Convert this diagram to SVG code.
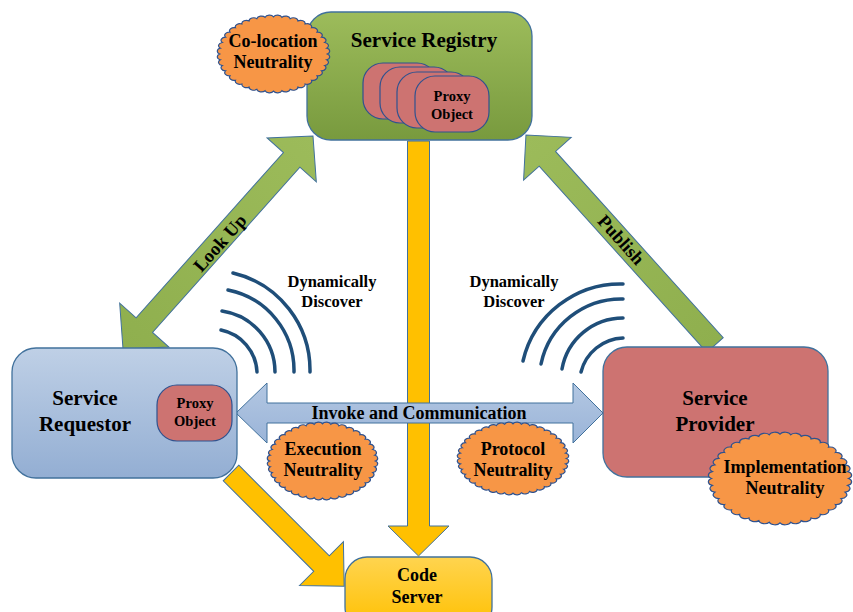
<svg xmlns="http://www.w3.org/2000/svg" xmlns:xlink="http://www.w3.org/1999/xlink" width="853" height="612" viewBox="0 0 853 612">
<style>
.t{font-family:"Liberation Serif","Times New Roman",serif;font-weight:bold;fill:#000;text-anchor:middle}
.node{stroke:#41719C;stroke-width:1.3}
.proxy{fill:#CD7371;stroke:#2F528F;stroke-width:1.2}
.cloudp{fill:#F79646;stroke:#2F528F;stroke-width:1.2;vector-effect:non-scaling-stroke}
.arr{stroke:#41719C;stroke-width:1}
.wave{fill:none;stroke:#1F4E79;stroke-width:3.5;stroke-linecap:round}
</style>
<defs>
<linearGradient id="gGreen" x1="0" y1="0" x2="0" y2="1"><stop offset="0" stop-color="#9DBC5B"/><stop offset="1" stop-color="#789A3E"/></linearGradient>
<linearGradient id="gBlue" x1="0" y1="0" x2="0" y2="1"><stop offset="0" stop-color="#BFD0E6"/><stop offset="1" stop-color="#93AED3"/></linearGradient>
<linearGradient id="gYellow" x1="0" y1="0" x2="0" y2="1"><stop offset="0" stop-color="#FFD44F"/><stop offset="1" stop-color="#FFC000"/></linearGradient>
<linearGradient id="gArrBlue" x1="0" y1="0" x2="0" y2="1"><stop offset="0" stop-color="#B3C7E2"/><stop offset="1" stop-color="#9AB4D8"/></linearGradient>
<linearGradient id="gArrGreen" x1="0" y1="0" x2="1" y2="0"><stop offset="0" stop-color="#8FAF4E"/><stop offset="1" stop-color="#9CBB5A"/></linearGradient>
<path id="cloud" class="cloudp" d="M50,0 A4.3 4.3 0 0 1 49.38,7.82 A4.3 4.3 0 0 1 47.55,15.45 A4.3 4.3 0 0 1 44.55,22.70 A4.3 4.3 0 0 1 40.45,29.39 A4.3 4.3 0 0 1 35.36,35.36 A4.3 4.3 0 0 1 29.39,40.45 A4.3 4.3 0 0 1 22.70,44.55 A4.3 4.3 0 0 1 15.45,47.55 A4.3 4.3 0 0 1 7.82,49.38 A4.3 4.3 0 0 1 0,50 A4.3 4.3 0 0 1 -7.82,49.38 A4.3 4.3 0 0 1 -15.45,47.55 A4.3 4.3 0 0 1 -22.70,44.55 A4.3 4.3 0 0 1 -29.39,40.45 A4.3 4.3 0 0 1 -35.36,35.36 A4.3 4.3 0 0 1 -40.45,29.39 A4.3 4.3 0 0 1 -44.55,22.70 A4.3 4.3 0 0 1 -47.55,15.45 A4.3 4.3 0 0 1 -49.38,7.82 A4.3 4.3 0 0 1 -50,0 A4.3 4.3 0 0 1 -49.38,-7.82 A4.3 4.3 0 0 1 -47.55,-15.45 A4.3 4.3 0 0 1 -44.55,-22.70 A4.3 4.3 0 0 1 -40.45,-29.39 A4.3 4.3 0 0 1 -35.36,-35.36 A4.3 4.3 0 0 1 -29.39,-40.45 A4.3 4.3 0 0 1 -22.70,-44.55 A4.3 4.3 0 0 1 -15.45,-47.55 A4.3 4.3 0 0 1 -7.82,-49.38 A4.3 4.3 0 0 1 0,-50 A4.3 4.3 0 0 1 7.82,-49.38 A4.3 4.3 0 0 1 15.45,-47.55 A4.3 4.3 0 0 1 22.70,-44.55 A4.3 4.3 0 0 1 29.39,-40.45 A4.3 4.3 0 0 1 35.36,-35.36 A4.3 4.3 0 0 1 40.45,-29.39 A4.3 4.3 0 0 1 44.55,-22.70 A4.3 4.3 0 0 1 47.55,-15.45 A4.3 4.3 0 0 1 49.38,-7.82 A4.3 4.3 0 0 1 50,0 Z"/>
</defs>
<rect width="853" height="612" fill="#fff"/>

<g id="connectors">
  <g id="edge-lookup">
    <polygon class="arr" fill="url(#gArrGreen)" transform="translate(218,242.5) rotate(-48.27)" points="-142.7,0 -110.7,-33 -110.7,-11 110.7,-11 110.7,-33 142.7,0 110.7,33 110.7,11 -110.7,11 -110.7,33"/>
    <text class="t" font-size="18.5" transform="translate(220,243) rotate(-48.27)" y="6">Look Up</text>
  </g>
  <g id="edge-publish">
    <polygon class="arr" fill="url(#gArrGreen)" transform="translate(620.5,240) rotate(-132)" points="-141.3,-11 109.3,-11 109.3,-32 141.3,0 109.3,32 109.3,11 -141.3,11"/>
    <text class="t" font-size="18.5" transform="translate(621,240) rotate(48)" y="6">Publish</text>
  </g>
  <g id="edge-registry-codeserver">
    <polygon class="arr" fill="#FFC000" points="407.5,141 429.5,141 429.5,526 449,526 418.5,556 388,526 407.5,526"/>
  </g>
  <g id="edge-requestor-codeserver">
    <polygon class="arr" fill="#FFC000" transform="translate(231,473) rotate(45)" points="0,-11 128,-11 128,-31 160,0 128,31 128,11 0,11"/>
  </g>
  <g id="edge-invoke">
    <polygon class="arr" fill="url(#gArrBlue)" points="236,413 267,383 267,403 573,403 573,383 603,413 573,443 573,423 267,423 267,443"/>
    <text class="t" font-size="18" x="419" y="419">Invoke and Communication</text>
  </g>
  <g id="waves-left">
    <path class="wave" d="M233,273 A100,100 0 0 1 310,372"/>
    <path class="wave" d="M228,290 A82,82 0 0 1 294,372"/>
    <path class="wave" d="M222,311 A62,62 0 0 1 275,372"/>
    <path class="wave" d="M221,330 A45,45 0 0 1 257,372"/>
    <text class="t" font-size="16.5" x="332" y="287">Dynamically</text>
    <text class="t" font-size="16.5" x="332" y="307">Discover</text>
  </g>
  <g id="waves-right">
    <path class="wave" d="M523,361 A100,100 0 0 1 623,284"/>
    <path class="wave" d="M541,364 A82,82 0 0 1 623,299"/>
    <path class="wave" d="M562,369 A62,62 0 0 1 623,318"/>
    <path class="wave" d="M581,372 A45,45 0 0 1 623,338"/>
    <text class="t" font-size="16.5" x="514" y="287">Dynamically</text>
    <text class="t" font-size="16.5" x="514" y="307">Discover</text>
  </g>
</g>

<g id="service-registry">
  <rect class="node" x="307" y="12" width="225" height="128" rx="24" fill="url(#gGreen)"/>
  <text class="t" font-size="21" x="424" y="47">Service Registry</text>
  <rect class="proxy" x="363" y="63" width="74" height="56" rx="20"/>
  <rect class="proxy" x="380" y="67" width="74" height="56" rx="20"/>
  <rect class="proxy" x="397" y="72" width="74" height="56" rx="20"/>
  <rect class="proxy" x="415" y="76" width="74" height="56" rx="20"/>
  <text class="t" font-size="14.5" x="452" y="101">Proxy</text>
  <text class="t" font-size="14.5" x="452" y="119">Object</text>
</g>

<g id="colocation-neutrality">
  <use xlink:href="#cloud" href="#cloud" transform="translate(273.5,54) scale(1.076,0.743)"/>
  <text class="t" font-size="18" x="273" y="47">Co-location</text>
  <text class="t" font-size="18" x="273" y="68">Neutrality</text>
</g>

<g id="service-requestor">
  <rect class="node" x="12" y="348" width="225" height="130" rx="24" fill="url(#gBlue)"/>
  <text class="t" font-size="21" x="85" y="405">Service</text>
  <text class="t" font-size="21" x="85" y="431">Requestor</text>
  <rect class="proxy" x="157" y="385" width="75" height="56" rx="20"/>
  <text class="t" font-size="14.5" x="195" y="408">Proxy</text>
  <text class="t" font-size="14.5" x="195" y="426">Object</text>
</g>

<g id="service-provider">
  <rect class="node" x="603" y="347" width="225" height="130" rx="24" fill="#CD7371"/>
  <text class="t" font-size="21" x="715" y="405">Service</text>
  <text class="t" font-size="21" x="715" y="431">Provider</text>
</g>

<g id="implementation-neutrality">
  <use xlink:href="#cloud" href="#cloud" transform="translate(780,478.5) scale(1.371,0.886)"/>
  <text class="t" font-size="18" x="785" y="473">Implementation</text>
  <text class="t" font-size="18" x="785" y="494">Neutrality</text>
</g>

<g id="execution-neutrality">
  <use xlink:href="#cloud" href="#cloud" transform="translate(322.5,461) scale(1.057,0.743)"/>
  <text class="t" font-size="18" x="323" y="455">Execution</text>
  <text class="t" font-size="18" x="323" y="476">Neutrality</text>
</g>

<g id="protocol-neutrality">
  <use xlink:href="#cloud" href="#cloud" transform="translate(513,458.5) scale(1.067,0.695)"/>
  <text class="t" font-size="18" x="513" y="455">Protocol</text>
  <text class="t" font-size="18" x="513" y="476">Neutrality</text>
</g>

<g id="code-server">
  <rect class="node" x="345" y="557" width="147" height="72" rx="22" fill="url(#gYellow)"/>
  <text class="t" font-size="18" x="417" y="581">Code</text>
  <text class="t" font-size="18" x="417" y="603">Server</text>
</g>
</svg>
